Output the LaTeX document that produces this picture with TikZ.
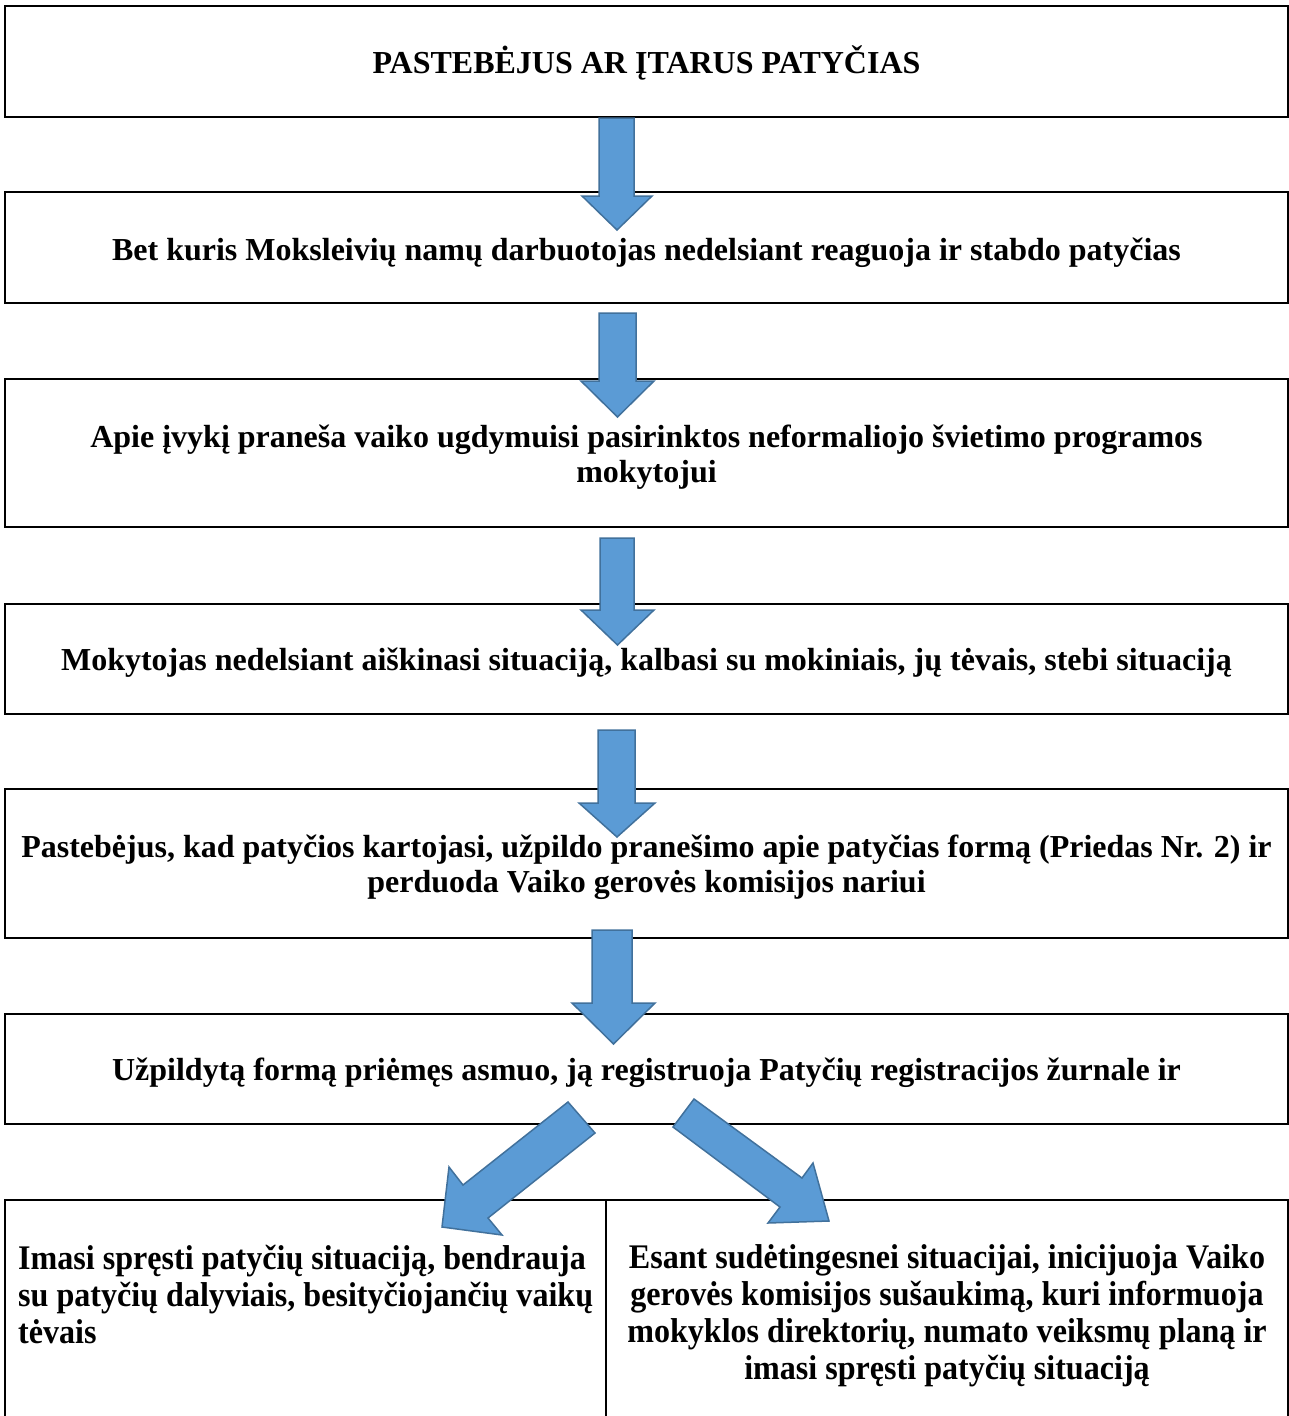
\documentclass[tikz,border=0pt]{standalone}
\usepackage{fontspec}
\setmainfont{Liberation Serif}
\newfontfamily\narrowserif[FakeStretch=0.93]{Liberation Serif}
\definecolor{arrfill}{HTML}{5B9BD5}
\definecolor{arrline}{HTML}{41719C}
\tikzset{
  box/.style={draw=black, line width=2pt, inner sep=0pt, rectangle},
  txt/.style={font=\fontsize{32}{35}\selectfont\bfseries, align=center, inner sep=0pt},
  btxt/.style={font=\narrowserif\fontsize{34.5}{37}\selectfont\bfseries, inner sep=0pt},
  blockarrow/.style={fill=arrfill, draw=arrline, line width=1.5pt, line join=miter},
  frameline/.style={draw=black, line width=2pt},
}
\newcommand{\vblockarrow}[7]{% xl xr yt yh xL xR ytip
  \draw[blockarrow] (#1,#3) -- (#2,#3) -- (#2,#4) -- (#6,#4) -- ({(#5+#6)/2},#7) -- (#5,#4) -- (#1,#4) -- cycle;}
\begin{document}
\begin{tikzpicture}[x=1pt,y=-1pt]
\useasboundingbox (0,0) rectangle (1289,1416);
\fill[white] (0,0) rectangle (1289,1416);
% boxes
\node[box, minimum width=1283pt, minimum height=111pt] (b1) at (646.5,61.5) {};
\node[box, minimum width=1283pt, minimum height=111pt] (b2) at (646.5,247.5) {};
\node[box, minimum width=1283pt, minimum height=148pt] (b3) at (646.5,453) {};
\node[box, minimum width=1283pt, minimum height=110pt] (b4) at (646.5,659) {};
\node[box, minimum width=1283pt, minimum height=149pt] (b5) at (646.5,863.5) {};
\node[box, minimum width=1283pt, minimum height=110pt] (b6) at (646.5,1069) {};
\node[inner sep=0pt, minimum width=601pt, minimum height=216pt] (b7) at (305.5,1308) {};
\node[inner sep=0pt, minimum width=682pt, minimum height=216pt] (b8) at (947,1308) {};
\draw[frameline] (b7.south west) -- (b7.north west) -- (b8.north east) -- (b8.south east);
\draw[frameline] (b7.north east) -- (b7.south east);
% texts
\node[txt] (t1) at ([yshift=-1pt]b1.center) {PASTEBĖJUS AR ĮTARUS PATYČIAS};
\node[txt] (t2) at ([yshift=-5.5pt]b2.center) {Bet kuris Moksleivių namų darbuotojas nedelsiant reaguoja ir stabdo patyčias};
\node[txt] (t3) at ([yshift=-4.5pt]b3.center) {Apie įvykį praneša vaiko ugdymuisi pasirinktos neformaliojo švietimo programos\\mokytojui};
\node[txt] (t4) at ([yshift=-4pt]b4.center) {Mokytojas nedelsiant aiškinasi situaciją, kalbasi su mokiniais, jų tėvais, stebi situaciją};
\node[txt] (t5) at ([yshift=-4pt]b5.center) {Pastebėjus, kad patyčios kartojasi, užpildo pranešimo apie patyčias formą (Priedas Nr. 2) ir\\perduoda Vaiko gerovės komisijos nariui};
\node[txt] (t6) at ([yshift=-4pt]b6.center) {Užpildytą formą priėmęs asmuo, ją registruoja Patyčių registracijos žurnale ir};
\node[btxt, align=left, anchor=west] (t7) at (18,1294) {Imasi spręsti patyčių situaciją, bendrauja\\su patyčių dalyviais, besityčiojančių vaikų\\tėvais};
\node[btxt, align=center] (t8) at (947,1315.5) {Esant sudėtingesnei situacijai, inicijuoja Vaiko\\gerovės komisijos sušaukimą, kuri informuoja\\mokyklos direktorių, numato veiksmų planą ir\\imasi spręsti patyčių situaciją};
% vertical block arrows
\vblockarrow{599}{634}{118}{196}{582}{652}{230}
\vblockarrow{599}{636}{313}{381}{581}{654}{417}
\vblockarrow{600}{634}{538}{610}{581}{654}{645}
\vblockarrow{598}{635}{730}{803}{579}{655}{837}
\vblockarrow{592}{632}{930}{1003}{572}{655}{1044}
% diagonal block arrows
\draw[blockarrow] (568,1102) -- (595,1133) -- (488,1218) -- (502,1235) -- (442,1227) -- (449,1167) -- (463,1185) -- cycle;
\draw[blockarrow] (694,1099) -- (802,1178) -- (813,1163) -- (829,1221) -- (768,1223) -- (780,1207) -- (673,1127) -- cycle;
\end{tikzpicture}
\end{document}
